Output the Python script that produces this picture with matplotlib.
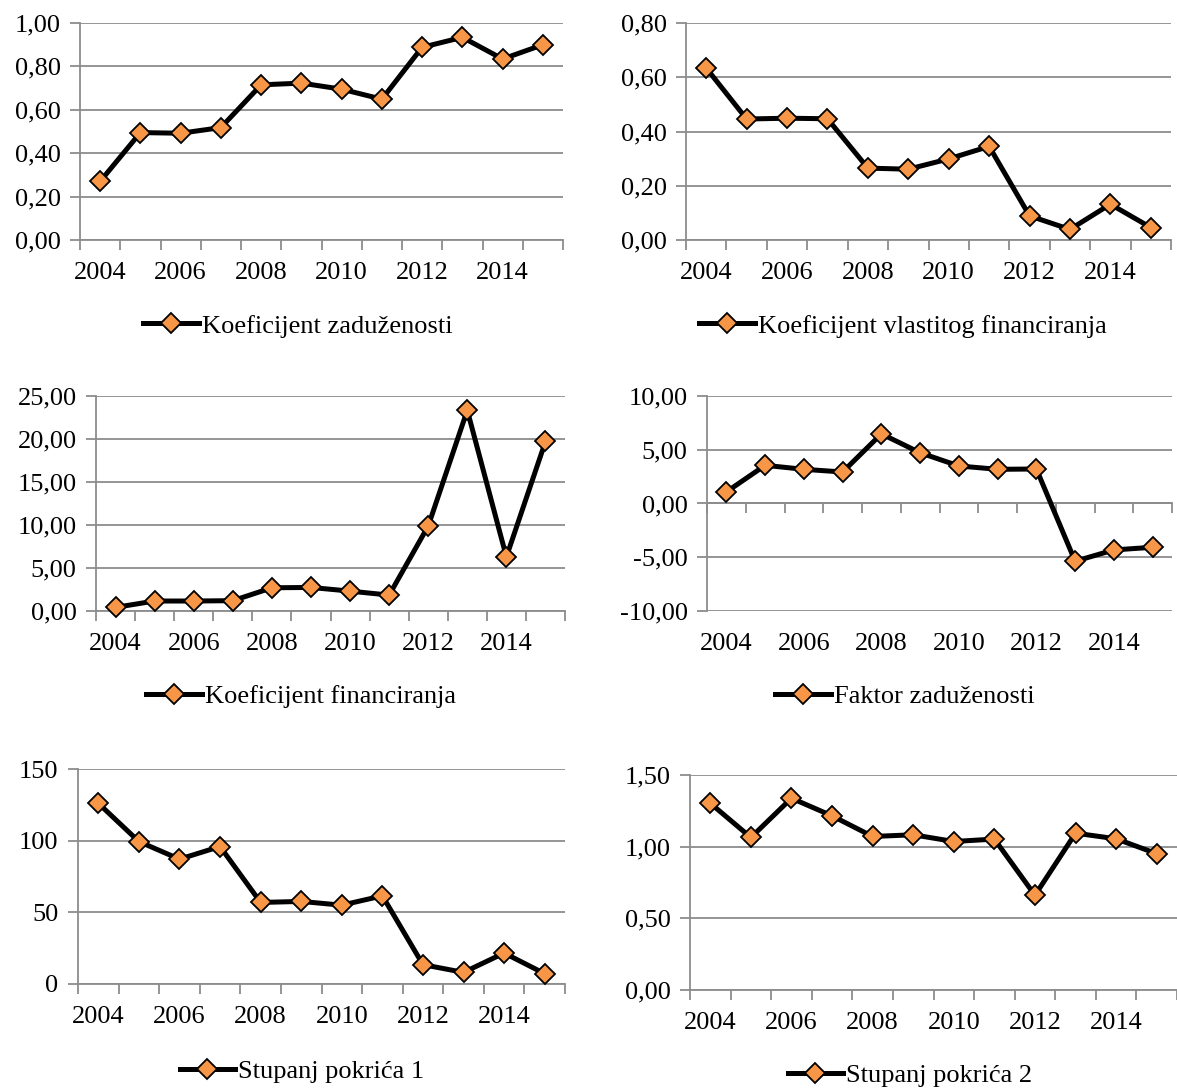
import numpy as np
import matplotlib.pyplot as plt
from matplotlib.ticker import FixedLocator, FuncFormatter

plt.rcParams['font.family'] = ['Liberation Serif', 'DejaVu Serif']
plt.rcParams['font.size'] = 19

years = [2004, 2005, 2006, 2007, 2008, 2009, 2010, 2011, 2012, 2013, 2014, 2015]
year_labels = ['2004', '2006', '2008', '2010', '2012', '2014']

koef_zaduzenosti = [0.27, 0.495, 0.492, 0.518, 0.715, 0.723, 0.695, 0.649, 0.888, 0.934, 0.834, 0.90]
koef_vlastitog = [0.634, 0.446, 0.449, 0.447, 0.265, 0.261, 0.299, 0.345, 0.089, 0.039, 0.132, 0.046]
koef_financiranja = [0.42, 1.16, 1.16, 1.20, 2.70, 2.74, 2.31, 1.85, 9.88, 23.34, 6.29, 19.71]
faktor_zaduzenosti = [1.08, 3.55, 3.18, 2.93, 6.48, 4.72, 3.49, 3.18, 3.21, -5.37, -4.32, -4.07]
stupanj_pokrica_1 = [126.1, 99.4, 87.1, 95.9, 56.9, 57.6, 55.0, 61.5, 13.5, 8.1, 21.6, 7.2]
stupanj_pokrica_2 = [1.303, 1.064, 1.338, 1.215, 1.071, 1.083, 1.036, 1.053, 0.661, 1.094, 1.055, 0.951]

W, H = 1177, 1088
GRID = '#8c8c8c'
ORANGE = '#F79646'

fig = plt.figure(figsize=(W / 100, H / 100), dpi=100)


def comma(decimals):
    return FuncFormatter(lambda v, pos: f"{v:.{decimals}f}".replace('.', ','))


def panel(box, values, label, yticks, decimals, legend_xy, zero_axis=False):
    left, right, top, bottom = box
    ax = fig.add_axes([left / W, 1 - bottom / H, (right - left) / W, (bottom - top) / H])
    x = np.arange(len(years))
    ax.plot(x, values, color='black', lw=3.6, marker='D', ms=10,
            mfc=ORANGE, mec='black', mew=1.3, label=label, zorder=3,
            clip_on=False)

    ax.set_xlim(-0.5, len(years) - 0.5)
    ax.set_ylim(yticks[0], yticks[-1])
    ax.set_yticks(yticks)
    ax.yaxis.set_major_formatter(comma(decimals))
    ax.grid(axis='y', color=GRID, lw=1.3)
    ax.set_axisbelow(True)

    for s in ['top', 'right']:
        ax.spines[s].set_visible(False)
    for s in ['left', 'bottom']:
        ax.spines[s].set_color(GRID)
        ax.spines[s].set_linewidth(1.3)

    ax.tick_params(axis='y', length=7, width=1.3, color=GRID, pad=7)

    # category boundaries get the tick marks, labels sit on every other category
    ax.xaxis.set_minor_locator(FixedLocator(np.arange(len(years) + 1) - 0.5))
    ax.tick_params(axis='x', which='minor', length=7, width=1.3, color=GRID)
    ax.tick_params(axis='x', which='major', length=0)

    label_pos = [years.index(int(t)) for t in year_labels]
    if zero_axis:
        ax.spines['bottom'].set_position(('data', 0))
        ax.set_xticks(label_pos)
        ax.tick_params(axis='x', which='major', labelbottom=False)
        sec = ax.secondary_xaxis('bottom')
        sec.set_xticks(label_pos, year_labels)
        sec.tick_params(length=0, pad=16)
        sec.spines['bottom'].set_visible(False)
    else:
        ax.set_xticks(label_pos, year_labels)
        ax.tick_params(axis='x', which='major', pad=16)

    ax.legend(loc='center', bbox_to_anchor=(legend_xy[0] / W, 1 - legend_xy[1] / H),
              bbox_transform=fig.transFigure, frameon=False, handlelength=2.1,
              handletextpad=0.12, borderaxespad=0)
    return ax


panel((80, 563, 23, 240), koef_zaduzenosti, 'Koeficijent zaduženosti',
      [0, 0.2, 0.4, 0.6, 0.8, 1.0], 2, (298, 326))
panel((686, 1171, 23, 240), koef_vlastitog, 'Koeficijent vlastitog financiranja',
      [0, 0.2, 0.4, 0.6, 0.8], 2, (903, 326))
panel((96, 565, 396, 611), koef_financiranja, 'Koeficijent financiranja',
      [0, 5, 10, 15, 20, 25], 2, (301, 696))
panel((707, 1172, 396, 611), faktor_zaduzenosti, 'Faktor zaduženosti',
      [-10, -5, 0, 5, 10], 2, (905, 696), zero_axis=True)
panel((78, 565, 769, 984), stupanj_pokrica_1, 'Stupanj pokrića 1',
      [0, 50, 100, 150], 0, (302, 1071))
panel((690, 1177, 775, 990), stupanj_pokrica_2, 'Stupanj pokrića 2',
      [0, 0.5, 1.0, 1.5], 2, (910, 1075))

fig.savefig('out.png', dpi=100)
